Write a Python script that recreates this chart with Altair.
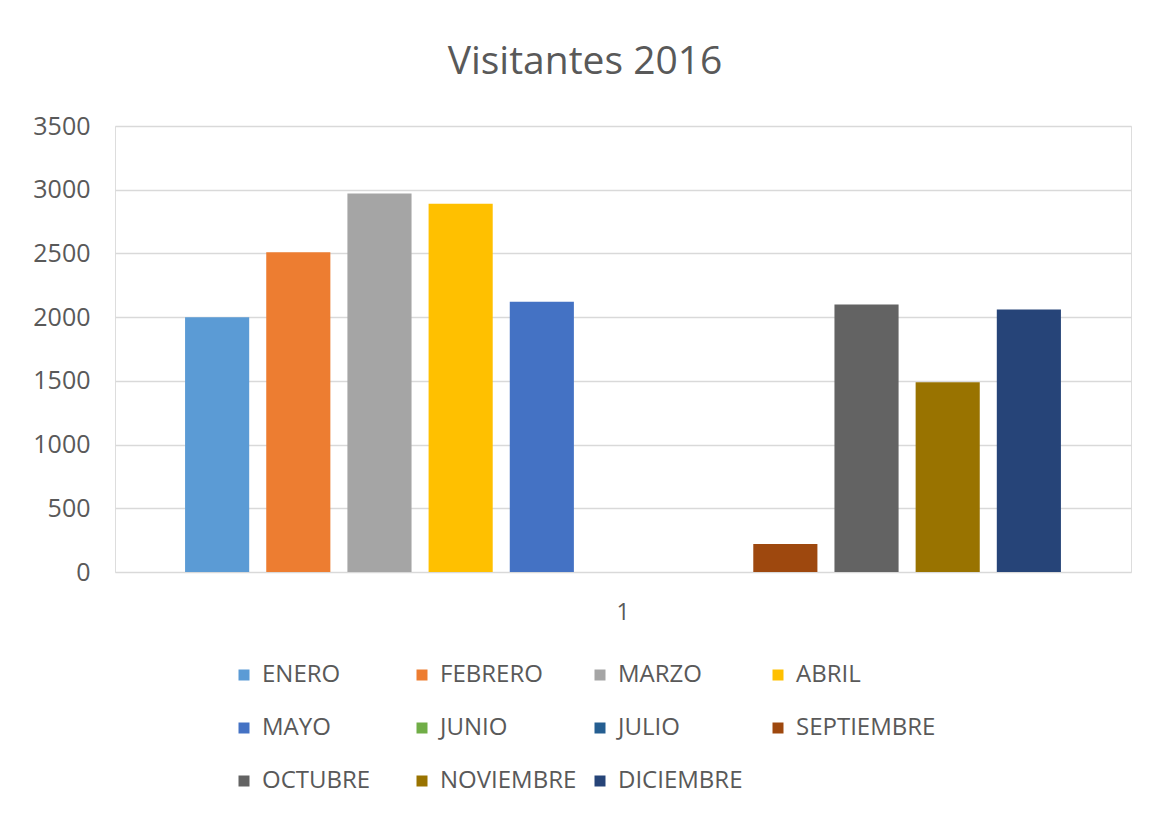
import altair as alt
import pandas as pd

months = ["ENERO", "FEBRERO", "MARZO", "ABRIL", "MAYO", "JUNIO", "JULIO",
          "SEPTIEMBRE", "OCTUBRE", "NOVIEMBRE", "DICIEMBRE"]
visitors = [2000, 2510, 2970, 2890, 2120, 0, 0, 220, 2100, 1490, 2060]
colors = ["#5B9BD5", "#ED7D31", "#A5A5A5", "#FFC000", "#4472C4", "#70AD47",
          "#255E91", "#9E480E", "#636363", "#997300", "#264478"]
category = "1"

df = pd.DataFrame({"cat": [category] * len(months), "mes": months, "visitantes": visitors})

FONT = "Open Sans"
TXT = "#595959"

chart = alt.Chart(df).mark_bar().encode(
    x=alt.X("cat:N", title=None,
            scale=alt.Scale(paddingInner=0, paddingOuter=0.08),
            axis=alt.Axis(labelAngle=0, ticks=False, domain=False, labelPadding=29,
                          labelFontSize=23, labelColor=TXT, labelFont=FONT)),
    xOffset=alt.XOffset("mes:N", sort=months,
                        scale=alt.Scale(paddingInner=0.21, paddingOuter=0)),
    y=alt.Y("visitantes:Q", title=None,
            scale=alt.Scale(domain=[0, 3500]),
            axis=alt.Axis(values=[0, 500, 1000, 1500, 2000, 2500, 3000, 3500],
                          format="d", ticks=False, domain=False, labelPadding=25,
                          labelFontSize=25, labelColor=TXT, labelFont=FONT,
                          gridColor="#D9D9D9", gridWidth=1.5)),
    color=alt.Color("mes:N", sort=months,
                    scale=alt.Scale(domain=months, range=colors),
                    legend=alt.Legend(title=None, orient="none", legendX=117, legendY=537,
                                      direction="horizontal",
                                      columns=4, symbolType="square", symbolSize=121,
                                      symbolStrokeWidth=0, labelFontSize=24,
                                      labelColor=TXT, labelFont=FONT, gridAlign="all",
                                      rowPadding=29, columnPadding=8, labelOffset=6)),
).properties(
    width=1016, height=446,
    title=alt.TitleParams("Visitantes 2016", fontSize=39, font=FONT, color=TXT,
                          fontWeight="normal", offset=32, dx=-38),
    autosize=alt.AutoSizeParams(type="none"),
    padding={"left": 115, "top": 126, "right": 34, "bottom": 247},
).configure_view(stroke=None).configure(background="white")

chart.save("out.html", embed_options={"renderer": "svg", "actions": False})
